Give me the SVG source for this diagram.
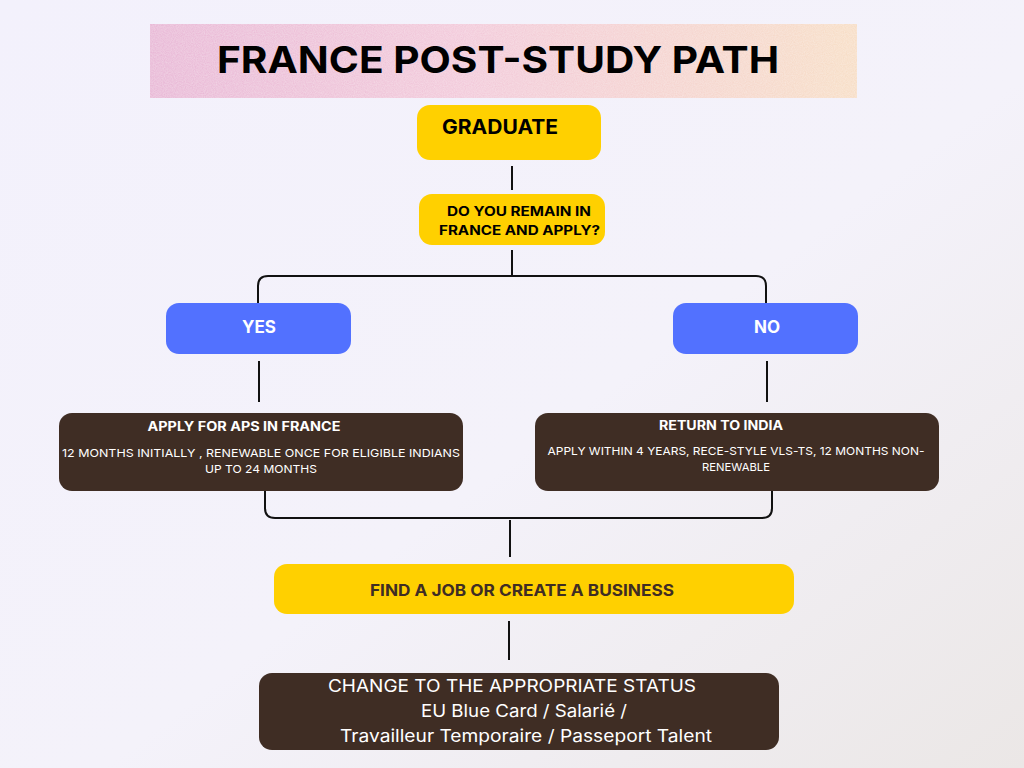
<svg xmlns="http://www.w3.org/2000/svg" width="1024" height="768" viewBox="0 0 1024 768">
  <defs>
    <linearGradient id="bg" x1="0" y1="0" x2="1" y2="1">
      <stop offset="0" stop-color="#f3f1fc"/>
      <stop offset="0.55" stop-color="#f4f2fa"/>
      <stop offset="1" stop-color="#ebe7e6"/>
    </linearGradient>
    <linearGradient id="banner" x1="0" y1="0" x2="1" y2="0">
      <stop offset="0" stop-color="#e7b3d4"/>
      <stop offset="0.45" stop-color="#f2c6d8"/>
      <stop offset="1" stop-color="#f7dcc2"/>
    </linearGradient>
    <filter id="grain" x="0" y="0" width="1" height="1">
      <feTurbulence type="fractalNoise" baseFrequency="0.9" numOctaves="2" seed="3" result="n"/>
      <feColorMatrix in="n" type="matrix" values="0 0 0 0 1  0 0 0 0 1  0 0 0 0 1  0 0 0 0.35 0" result="w"/>
      <feComposite in="w" in2="SourceGraphic" operator="in" result="wg"/>
      <feMerge><feMergeNode in="SourceGraphic"/><feMergeNode in="wg"/></feMerge>
    </filter>
    <style>
      .t { font-family: Inter, "Liberation Sans", sans-serif; }
      .b { font-weight: 700; }
      .yellow { fill: #ffd000; }
      .blue { fill: #5271ff; }
      .brown { fill: #3f2d24; }
      .wire { fill: none; stroke: #111; stroke-width: 2; stroke-linecap: butt; }
    </style>
  </defs>

  <rect width="1024" height="768" fill="url(#bg)"/>

  <!-- title banner -->
  <g id="title">
    <rect x="150" y="24" width="707" height="74" fill="url(#banner)" filter="url(#grain)"/>
    <text class="t b" x="498" y="73" font-size="37" text-anchor="middle" fill="#000" textLength="562" lengthAdjust="spacingAndGlyphs">FRANCE POST-STUDY PATH</text>
  </g>

  <!-- connectors -->
  <g id="connectors" class="wire">
    <line x1="512" y1="166" x2="512" y2="190"/>
    <line x1="512" y1="250" x2="512" y2="276"/>
    <path d="M258 303 V286 Q258 276 268 276 H756 Q766 276 766 286 V303"/>
    <line x1="259" y1="361" x2="259" y2="402"/>
    <line x1="767" y1="361" x2="767" y2="402"/>
    <path d="M265 491 V508 Q265 518 275 518 H762 Q772 518 772 508 V491"/>
    <line x1="510" y1="520" x2="510" y2="557"/>
    <line x1="509" y1="621" x2="509" y2="660"/>
  </g>

  <g id="graduate">
    <rect class="yellow" x="417" y="105" width="184" height="55" rx="13"/>
    <text class="t b" x="442" y="134" font-size="20" fill="#000" textLength="116" lengthAdjust="spacingAndGlyphs">GRADUATE</text>
  </g>

  <g id="question">
    <rect class="yellow" x="419" y="194" width="186" height="51" rx="13"/>
    <text class="t b" x="447" y="216" font-size="13" fill="#000" textLength="144" lengthAdjust="spacingAndGlyphs">DO YOU REMAIN IN</text>
    <text class="t b" x="439" y="235" font-size="13" fill="#000" textLength="161" lengthAdjust="spacingAndGlyphs">FRANCE AND APPLY?</text>
  </g>

  <g id="yes">
    <rect class="blue" x="166" y="303" width="185" height="51" rx="13"/>
    <text class="t b" x="259" y="333" font-size="17" fill="#fff" text-anchor="middle">YES</text>
  </g>

  <g id="no">
    <rect class="blue" x="673" y="303" width="185" height="51" rx="13"/>
    <text class="t b" x="767" y="333" font-size="17" fill="#fff" text-anchor="middle">NO</text>
  </g>

  <g id="apply-aps">
    <rect class="brown" x="59" y="413" width="404" height="78" rx="13"/>
    <text class="t b" x="244" y="431" font-size="13" fill="#fff" text-anchor="middle" textLength="193" lengthAdjust="spacingAndGlyphs">APPLY FOR APS IN FRANCE</text>
    <text class="t" x="261" y="457" font-size="11" fill="#fff" text-anchor="middle" textLength="398" lengthAdjust="spacingAndGlyphs">12 MONTHS INITIALLY , RENEWABLE ONCE FOR ELIGIBLE INDIANS</text>
    <text class="t" x="261" y="473" font-size="11" fill="#fff" text-anchor="middle" textLength="112" lengthAdjust="spacingAndGlyphs">UP TO 24 MONTHS</text>
  </g>

  <g id="return-india">
    <rect class="brown" x="535" y="413" width="404" height="78" rx="13"/>
    <text class="t b" x="721" y="430" font-size="13" fill="#fff" text-anchor="middle" textLength="124" lengthAdjust="spacingAndGlyphs">RETURN TO INDIA</text>
    <text class="t" x="736" y="455" font-size="11" fill="#fff" text-anchor="middle" textLength="377" lengthAdjust="spacingAndGlyphs">APPLY WITHIN 4 YEARS, RECE-STYLE VLS-TS, 12 MONTHS NON-</text>
    <text class="t" x="736" y="471" font-size="11" fill="#fff" text-anchor="middle" textLength="68" lengthAdjust="spacingAndGlyphs">RENEWABLE</text>
  </g>

  <g id="find-job">
    <rect class="yellow" x="274" y="564" width="520" height="50" rx="13"/>
    <text class="t b" x="522" y="596" font-size="16" fill="#3f2d24" text-anchor="middle" textLength="304" lengthAdjust="spacingAndGlyphs">FIND A JOB OR CREATE A BUSINESS</text>
  </g>

  <g id="change-status">
    <rect class="brown" x="259" y="673" width="520" height="77" rx="13"/>
    <text class="t" x="512" y="692" font-size="17" fill="#fff" text-anchor="middle" textLength="368" lengthAdjust="spacingAndGlyphs">CHANGE TO THE APPROPRIATE STATUS</text>
    <text class="t" x="524" y="717" font-size="17" fill="#fff" text-anchor="middle" textLength="206" lengthAdjust="spacingAndGlyphs">EU Blue Card / Salarié /</text>
    <text class="t" x="526" y="742" font-size="17" fill="#fff" text-anchor="middle" textLength="372" lengthAdjust="spacingAndGlyphs">Travailleur Temporaire / Passeport Talent</text>
  </g>
</svg>
